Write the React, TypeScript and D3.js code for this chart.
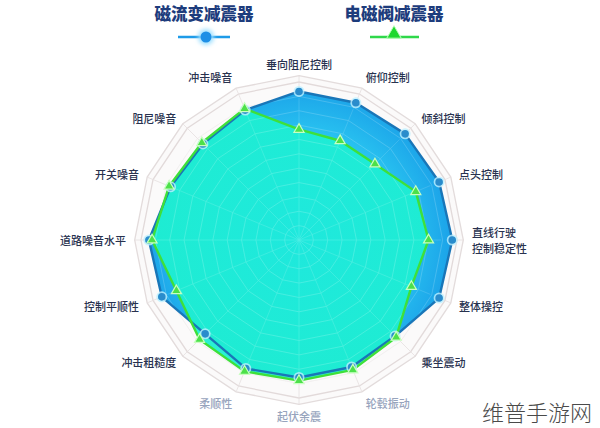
import React from "react";
import * as d3 from "d3";

const categories = [
  "垂向阻尼控制", "俯仰控制", "倾斜控制", "点头控制", "直线行驶\n控制稳定性", "整体操控",
  "乘坐震动", "轮毂振动", "起伏余震", "柔顺性", "冲击粗糙度", "控制平顺性",
  "道路噪音水平", "开关噪音", "阻尼噪音", "冲击噪音",
];
const mutedLabels = ["轮毂振动", "起伏余震", "柔顺性"];
const seriesNames = ["磁流变减震器", "电磁阀减震器"];
const mrValues = [0.94, 0.94, 0.95, 0.96, 0.97, 0.96, 0.86, 0.87, 0.87, 0.88, 0.84, 0.94, 0.95, 0.88, 0.86, 0.89];
const emValues = [0.70, 0.68, 0.68, 0.80, 0.82, 0.77, 0.87, 0.89, 0.89, 0.90, 0.89, 0.84, 0.93, 0.89, 0.87, 0.90];
const gridLevels = d3.range(1, 12).map((i) => i / 11);

const W = 600, H = 428;
const cx = 299, cy = 240, R = 158;

export default function App() {
  const n = categories.length;
  const angle = d3.scaleLinear().domain([0, n]).range([0, 2 * Math.PI]);
  const r = d3.scaleLinear().domain([0, 1]).range([0, R]);
  const pt = (i: number, v: number): [number, number] => {
    const a = angle(i);
    return [cx + Math.sin(a) * r(v), cy - Math.cos(a) * r(v)];
  };
  const line = d3.line<[number, number]>().curve(d3.curveLinearClosed);
  const ring = (v: number) => line(d3.range(n).map((i) => pt(i, v))) as string;
  const mrPath = line(mrValues.map((v, i) => pt(i, v))) as string;
  const emPath = line(emValues.map((v, i) => pt(i, v))) as string;
  const tri = d3.symbol(d3.symbolTriangle, 44)() as string;
  const triL = d3.symbol(d3.symbolTriangle, 90)() as string;
  const font = "'Noto Sans CJK SC', 'Noto Sans', sans-serif";

  return (
    <svg width={W} height={H} style={{ display: "block", position: "absolute", left: 0, top: 0, background: "#fff" }} fontFamily={font}>
      <defs>
        <radialGradient id="blueFill" cx={cx} cy={cy} r={R} gradientUnits="userSpaceOnUse">
          <stop offset="0%" stopColor="#2ee6f2" />
          <stop offset="60%" stopColor="#2ccbf2" />
          <stop offset="100%" stopColor="#1a9fe8" />
        </radialGradient>
        <radialGradient id="greenFill" cx={cx} cy={cy} r={R} gradientUnits="userSpaceOnUse">
          <stop offset="0%" stopColor="#1ee8dc" />
          <stop offset="100%" stopColor="#1ef0d0" />
        </radialGradient>
        <filter id="glow" x="-50%" y="-50%" width="200%" height="200%">
          <feGaussianBlur stdDeviation="2" />
        </filter>
      </defs>
      {/* legend */}
      <g>
        <text x={204} y={20} textAnchor="middle" fontSize={16.5} fontWeight={900} fill="#1d3c7c">{seriesNames[0]}</text>
        <line x1={178} x2={230} y1={37} y2={37} stroke="#8fd6ff" strokeWidth={5} filter="url(#glow)" />
        <line x1={178} x2={230} y1={37} y2={37} stroke="#1e9be8" strokeWidth={2.5} />
        <circle cx={206} cy={37} r={8} fill="#9fe0ff" filter="url(#glow)" />
        <circle cx={206} cy={37} r={5.5} fill="#1e8fe6" />
        <text x={394} y={20} textAnchor="middle" fontSize={16.5} fontWeight={900} fill="#1d3c7c">{seriesNames[1]}</text>
        <line x1={370} x2={419} y1={37} y2={37} stroke="#9af59a" strokeWidth={5} filter="url(#glow)" />
        <line x1={370} x2={419} y1={37} y2={37} stroke="#2fd84a" strokeWidth={2.5} />
        <path d={triL} transform={`translate(394,34)`} fill="#20d830" stroke="#b8ffb8" strokeWidth={1} />
      </g>
      {/* grid */}
      <g>
        <path d={ring(1.04)} fill="#fbfafa" stroke="#e3dcdc" strokeWidth={1.3} />
        {gridLevels.map((g) => (
          <path key={g} d={ring(g)} fill="none" stroke={g === 1 ? "#e2dada" : "#ece8e8"} strokeWidth={g === 1 ? 1.3 : 0.8} />
        ))}
        {categories.map((c, i) => {
          const [x, y] = pt(i, 1.04);
          return <line key={c} x1={cx} y1={cy} x2={x} y2={y} stroke="#e6e0e0" strokeWidth={0.8} />;
        })}
      </g>
      {/* series */}
      <path d={mrPath} fill="url(#blueFill)" stroke="none" />
      <path d={emPath} fill="url(#greenFill)" fillOpacity={0.95} stroke="none" />
      {/* inner grid overlay */}
      <g opacity={0.22}>
        {gridLevels.slice(0, 10).map((g) => (
          <path key={g} d={ring(g)} fill="none" stroke="#ffffff" strokeWidth={0.8} />
        ))}
        {categories.map((c, i) => {
          const [x, y] = pt(i, 0.9);
          return <line key={c} x1={cx} y1={cy} x2={x} y2={y} stroke="#ffffff" strokeWidth={0.6} />;
        })}
      </g>
      <path d={mrPath} fill="none" stroke="#1976b8" strokeWidth={2.4} strokeLinejoin="round" />
      <path d={emPath} fill="none" stroke="#3ee03a" strokeWidth={2.4} strokeLinejoin="round" />
      {mrValues.map((v, i) => {
        const [x, y] = pt(i, v);
        return (
          <g key={"m" + i}>
            <circle cx={x} cy={y} r={5.5} fill="#bdf0ff" opacity={0.8} />
            <circle cx={x} cy={y} r={3.8} fill="#2a8ccc" />
          </g>
        );
      })}
      {emValues.map((v, i) => {
        const [x, y] = pt(i, v);
        return <path key={"e" + i} d={tri} transform={`translate(${x},${y})`} fill="#4ce04a" stroke="#c8ffc0" strokeWidth={1.2} />;
      })}
      {/* labels */}
      {categories.map((c, i) => {
        const a = angle(i);
        const s = Math.sin(a);
        const co = Math.cos(a);
        const lr = R + 14;
        const x = cx + s * lr + (Math.abs(s) < 0.1 ? 0 : s > 0 ? 1 : -1);
        const y = cy - co * lr - (co > 0.9 ? 4 : co < -0.9 ? -4 : 0);
        const anchor = Math.abs(s) < 0.1 ? "middle" : s > 0 ? "start" : "end";
        const lines = c.split("\n");
        const muted = mutedLabels.includes(c);
        const gap = 16;
        return (
          <g key={c}>
            {lines.map((l, k) => (
              <text key={k} x={x} y={y - ((lines.length - 1) * gap) / 2 + k * gap} textAnchor={anchor} fontSize={11} fontWeight={500}
                fill={muted ? "#97a4bd" : "#28324f"} dominantBaseline="central">{l}</text>
            ))}
          </g>
        );
      })}
      <text x={482} y={421} fontSize={22} fill="#4a4a4a" fontWeight={300}>维普手游网</text>
    </svg>
  );
}
